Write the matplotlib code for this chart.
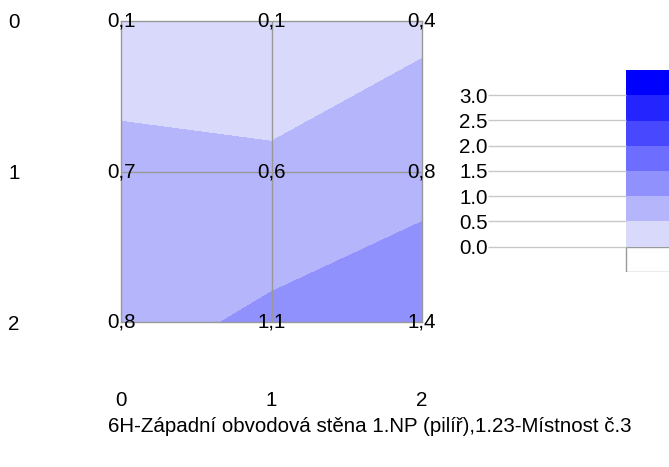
import numpy as np
import matplotlib.pyplot as plt

plt.rcParams['font.family'] = ['Liberation Sans', 'DejaVu Sans']

# grid values (rows top -> bottom, columns left -> right)
x_ticks = [0, 1, 2]
y_ticks = [0, 1, 2]
row0 = [0.1, 0.1, 0.4]
row1 = [0.7, 0.6, 0.8]
row2 = [0.8, 1.1, 1.4]

levels = [0.0, 0.5, 1.0, 1.5, 2.0, 2.5, 3.0, 3.5]
band_colors = ['#d9d9fc', '#b5b5fc', '#9191fe', '#6d6dff', '#4848ff', '#2424ff', '#0000ff']
legend_labels = ['0.0', '0.5', '1.0', '1.5', '2.0', '2.5', '3.0']
title = '6H-Západní obvodová stěna 1.NP (pilíř),1.23-Místnost č.3'

Z = np.array([row0, row1, row2])
X, Y = np.meshgrid(x_ticks, y_ticks)

W, H = 669, 467
fs = 14.8
fig = plt.figure(figsize=(W / 100, H / 100), dpi=100)

# main contour panel
ax = fig.add_axes([121 / W, 1 - 322 / H, 301 / W, 301 / H])
ax.contourf(X, Y, Z, levels=levels, colors=band_colors, antialiased=False)
ax.set_xlim(0, 2)
ax.set_ylim(2, 0)
ax.axvline(1, color='#999999', lw=1)
ax.axhline(1, color='#999999', lw=1)
for s in ax.spines.values():
    s.set_color('#999999')
    s.set_linewidth(1)
ax.set_xticks(x_ticks)
ax.set_yticks(y_ticks)
ax.tick_params(length=0, labelsize=fs)
ax.tick_params(axis='x', pad=50)
ax.tick_params(axis='y', pad=73)

for i, yy in enumerate(y_ticks):
    for j, xx in enumerate(x_ticks):
        ax.text(xx, yy, f'{Z[i, j]:.1f}'.replace('.', ','), ha='center', va='center',
                fontsize=fs, clip_on=False)

# legend
lax = fig.add_axes([488 / W, 1 - 272 / H, 181 / W, 202 / H])
lax.set_xlim(0, 181)
lax.set_ylim(-0.5, 3.5)
bar_x = 138
lax.hlines(levels[:-1], 0, bar_x, color='#c8c8c8', lw=1)
lax.bar(bar_x, 0.5, bottom=-0.5, width=100, align='edge', color='white',
        edgecolor='#999999', lw=1)
lax.bar([bar_x] * 7, [0.5] * 7, bottom=levels[:-1], width=100, align='edge',
        color=band_colors, lw=0)
lax.set_yticks(levels[:-1])
lax.set_yticklabels(legend_labels)
lax.tick_params(length=0, labelsize=fs, pad=0)
lax.set_xticks([])
for s in lax.spines.values():
    s.set_visible(False)

fig.text(369.5 / W, 1 - 427 / H, title, ha='center', va='center', fontsize=fs)

fig.savefig('out.png', dpi=100)
